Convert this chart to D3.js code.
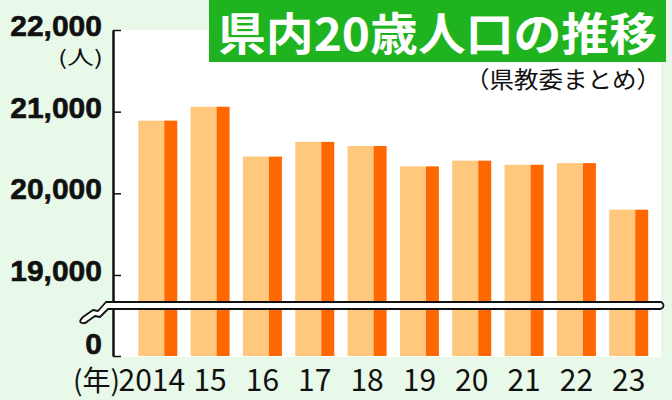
<!DOCTYPE html>
<html><head><meta charset="utf-8">
<script src="https://cdn.jsdelivr.net/npm/d3@7"></script>
<style>
html,body{margin:0;padding:0;background:#e9f9e9;}
svg{display:block;}
</style></head>
<body>
<svg id="chart" width="672" height="400"></svg>
<script>
const years = ["2014","15","16","17","18","19","20","21","22","23"];
const population = [20890, 21060, 20450, 20630, 20580, 20330, 20400, 20350, 20370, 19800];
const yTicks = [0, 19000, 20000, 21000, 22000];
const title = "県内20歳人口の推移";
const source = "（県教委まとめ）";
const unitLabel = "(人)";
const yearLabel = "(年)";

const svg = d3.select("#chart");
svg.append("rect").attr("width",672).attr("height",400).attr("fill","#e9f9e9");

// polylinear scale with axis break
const y = d3.scaleLinear().domain([0, 19000, 22000]).range([356, 275, 30]);
const x = d3.scaleBand().domain(years).range([125.2, 661.3]).paddingInner(0.255).paddingOuter(0.25);

// white plot area
svg.append("rect").attr("x",113).attr("y",30).attr("width",548).attr("height",327).attr("fill","#ffffff");

// bars
const bw = x.bandwidth();
const g = svg.append("g");
g.selectAll(".light").data(years).join("rect").attr("class","light")
  .attr("x", d => x(d)).attr("width", bw*2/3)
  .attr("y", (d,i) => y(population[i])).attr("height", (d,i) => y(0) - y(population[i]))
  .attr("fill","#ffc87c");
g.selectAll(".dark").data(years).join("rect").attr("class","dark")
  .attr("x", d => x(d) + bw*2/3).attr("width", bw/3)
  .attr("y", (d,i) => y(population[i])).attr("height", (d,i) => y(0) - y(population[i]))
  .attr("fill","#ff6700");

// y axis
const yAxis = d3.axisLeft(y).tickValues(yTicks).tickFormat(d3.format(",")).tickSizeInner(-8).tickSizeOuter(0).tickPadding(11);
const ga = svg.append("g").attr("transform","translate(113,0)").call(yAxis);
ga.select(".domain").attr("stroke","#111").attr("stroke-width",2.5);
ga.selectAll(".tick line").attr("stroke","#111").attr("stroke-width",1.5);
ga.selectAll(".tick text").attr("fill","#111").attr("font-family","'Liberation Sans', Arial, sans-serif")
  .attr("font-weight","bold").attr("font-size",30)
  .attr("dy", d => d === 0 ? "-0.1em" : "0.18em")
  .attr("stroke","#111").attr("stroke-width",0.6);

// break band
svg.append("path")
  .attr("d","M660,302 H106 L98,311 L93,310 L83,317 Q78,322 82,323 Q85,324 88,321 L95,316 L100,317 L108,309 H660 A3.5,3.5 0 0 0 660,302 Z")
  .attr("fill","#ffffff").attr("stroke","#111").attr("stroke-width",1.8).attr("stroke-linejoin","round");

// x axis labels
const xAxis = d3.axisBottom(x).tickSize(0).tickPadding(0);
const gx = svg.append("g").attr("transform","translate(0,362)").call(xAxis);
gx.select(".domain").remove();
gx.selectAll(".tick text").attr("fill","#111").attr("font-family","'Noto Sans CJK JP', sans-serif")
  .attr("font-size",30).attr("dy","0.95em")
  .attr("dx", (d,i) => i === 0 ? -6 : 0);
svg.append("text").attr("x",120).attr("y",391).attr("text-anchor","end")
  .attr("font-family","'Noto Sans CJK JP', sans-serif").attr("font-size",28).attr("fill","#111")
  .attr("textLength",47).attr("lengthAdjust","spacingAndGlyphs").text(yearLabel);

// unit label
svg.append("text").attr("x",103).attr("y",65).attr("text-anchor","end")
  .attr("font-family","'Noto Sans CJK JP', sans-serif").attr("font-size",20).attr("fill","#111")
  .attr("textLength",45).attr("lengthAdjust","spacingAndGlyphs").text(unitLabel);

// title box
svg.append("rect").attr("x",209).attr("y",0).attr("width",457).attr("height",62).attr("fill","#1fb41f");
svg.append("text").attr("x",218).attr("y",51)
  .attr("font-family","'Noto Sans CJK JP', sans-serif").attr("font-weight","bold").attr("font-size",45)
  .attr("fill","#ffffff").attr("textLength",439).attr("lengthAdjust","spacingAndGlyphs").text(title);

// source
svg.append("text").attr("x",661).attr("y",88).attr("text-anchor","end")
  .attr("font-family","'Noto Sans CJK JP', sans-serif").attr("font-size",23).attr("fill","#111")
  .attr("textLength",196).attr("lengthAdjust","spacingAndGlyphs").text(source);
</script>
</body></html>
